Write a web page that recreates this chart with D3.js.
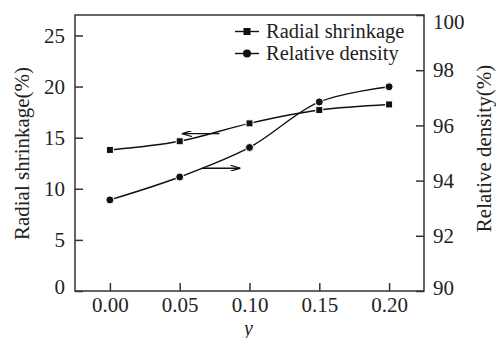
<!DOCTYPE html>
<html><head><meta charset="utf-8">
<script src="https://cdn.jsdelivr.net/npm/d3@7"></script>
<style>body{margin:0;background:#fff}svg{display:block}</style>
</head><body><svg id="c" width="496" height="338" font-family="Liberation Serif"></svg>
<script>
const xValues = [0.00, 0.05, 0.10, 0.15, 0.20];
const shrinkage = [13.8, 14.65, 16.4, 17.7, 18.25];
const density = [93.3, 94.13, 95.2, 96.85, 97.4];
const xTicks = [0.00, 0.05, 0.10, 0.15, 0.20];
const leftTicks = [0, 5, 10, 15, 20, 25];
const rightTicks = [90, 92, 94, 96, 98, 100];
const seriesNames = ["Radial shrinkage", "Relative density"];
const leftLabel = "Radial shrinkage(%)";
const rightLabel = "Relative density(%)";
const xLabel = "y";

const FONT = "Liberation Serif";
const svg = d3.select("#c");
const L = 75, R = 424, T = 15, B = 291;
const x = d3.scaleLinear().domain([-0.025, 0.225]).range([L, R]);
const yL = d3.scaleLinear().domain([0, 27]).range([B, T]);
const yR = d3.scaleLinear().domain([90, 100]).range([B, T]);
const axisColor = "#333";
const fs = 21;

function serif(sel) { return sel.attr("font-family", FONT).style("font-family", FONT); }

// frame
svg.append("rect").attr("x", L).attr("y", T).attr("width", R - L).attr("height", B - T)
  .attr("fill", "none").attr("stroke", axisColor).attr("stroke-width", 1.5);

// axes
const gx = svg.append("g").attr("transform", `translate(0,${B})`)
  .call(d3.axisBottom(x).tickValues(xTicks).tickSizeInner(-8).tickSizeOuter(0).tickPadding(6).tickFormat(d3.format(".2f")));
const gl = svg.append("g").attr("transform", `translate(${L},0)`)
  .call(d3.axisLeft(yL).tickValues(leftTicks).tickSizeInner(-8).tickSizeOuter(0).tickPadding(10));
const gr = svg.append("g").attr("transform", `translate(${R},0)`)
  .call(d3.axisRight(yR).tickValues(rightTicks).tickSizeInner(-8).tickSizeOuter(0).tickPadding(9));
[gx, gl, gr].forEach(g => {
  serif(g).attr("font-size", fs);
  g.select(".domain").remove();
  g.selectAll(".tick line").attr("stroke", axisColor).attr("stroke-width", 1.5);
  serif(g.selectAll(".tick text")).attr("font-size", fs).attr("fill", "#222");
});
gl.selectAll(".tick").filter(d => d === 0).select("text").attr("dy", "0.12em");
gr.selectAll(".tick").filter(d => d === 90).select("text").attr("dy", "0.15em");
gr.selectAll(".tick").filter(d => d === 100).select("text").attr("dy", "0.65em");

// axis labels
serif(svg.append("text")).attr("transform", `translate(29,${(65 + 242) / 2}) rotate(-90)`)
  .attr("text-anchor", "middle").attr("font-size", fs).attr("fill", "#222").text(leftLabel);
serif(svg.append("text")).attr("transform", `translate(491,${(60 + 237) / 2}) rotate(-90)`)
  .attr("text-anchor", "middle").attr("font-size", fs).attr("fill", "#222").text(rightLabel);
serif(svg.append("text")).attr("x", x(0.1) - 1).attr("y", 335).attr("text-anchor", "middle")
  .attr("font-size", 20).attr("font-style", "italic").attr("fill", "#222").text(xLabel);

// lines
const lineL = d3.line().x((d, i) => x(xValues[i])).y(d => yL(d)).curve(d3.curveCatmullRom.alpha(0.5));
const lineR = d3.line().x((d, i) => x(xValues[i])).y(d => yR(d)).curve(d3.curveCatmullRom.alpha(0.5));
svg.append("path").datum(shrinkage).attr("d", lineL).attr("fill", "none").attr("stroke", "#111").attr("stroke-width", 1.4);
svg.append("path").datum(density).attr("d", lineR).attr("fill", "none").attr("stroke", "#111").attr("stroke-width", 1.4);

// markers
svg.selectAll(".sq").data(shrinkage).join("rect")
  .attr("x", (d, i) => x(xValues[i]) - 3.5).attr("y", d => yL(d) - 3.5)
  .attr("width", 7).attr("height", 7).attr("fill", "#111").attr("stroke", "#fff").attr("stroke-width", 1);
svg.selectAll(".ci").data(density).join("circle")
  .attr("cx", (d, i) => x(xValues[i])).attr("cy", d => yR(d)).attr("r", 4)
  .attr("fill", "#111").attr("stroke", "#fff").attr("stroke-width", 1);

// arrows
const defs = svg.append("defs");
defs.append("marker").attr("id", "ah").attr("viewBox", "0 0 10 6").attr("refX", 10).attr("refY", 3)
  .attr("markerWidth", 10).attr("markerHeight", 6).attr("markerUnits", "userSpaceOnUse").attr("orient", "auto")
  .append("path").attr("d", "M0,0 L10,3 L0,6").attr("fill", "none").attr("stroke", "#111").attr("stroke-width", 1.2);
svg.append("line").attr("x1", x(0.0785)).attr("x2", x(0.0515)).attr("y1", yL(15.4)).attr("y2", yL(15.4))
  .attr("stroke", "#111").attr("stroke-width", 1.4).attr("marker-end", "url(#ah)");
svg.append("line").attr("x1", x(0.066)).attr("x2", x(0.0935)).attr("y1", yR(94.45)).attr("y2", yR(94.45))
  .attr("stroke", "#111").attr("stroke-width", 1.4).attr("marker-end", "url(#ah)");

// legend
const lx = 247, ly = [31.5, 53.5];
seriesNames.forEach((name, i) => {
  const g = svg.append("g");
  g.append("line").attr("x1", lx - 12).attr("x2", lx + 12).attr("y1", ly[i]).attr("y2", ly[i])
    .attr("stroke", "#111").attr("stroke-width", 1.4);
  if (i === 0) g.append("rect").attr("x", lx - 3.5).attr("y", ly[i] - 3.5).attr("width", 7).attr("height", 7).attr("fill", "#111");
  else g.append("circle").attr("cx", lx).attr("cy", ly[i]).attr("r", 4).attr("fill", "#111");
  serif(g.append("text")).attr("x", lx + 19).attr("y", ly[i]).attr("dy", "0.33em").attr("font-size", 20.5)
    .attr("fill", "#222").text(name);
});
</script></body></html>
